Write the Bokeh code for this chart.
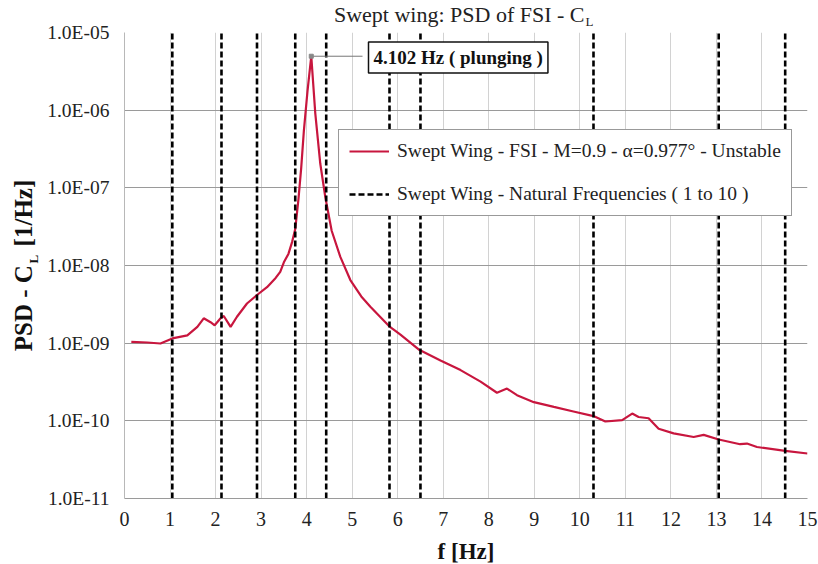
import math
from bokeh.plotting import figure
from bokeh.models import (FixedTicker, CustomJSTickFormatter, Label, Legend, LegendItem)
from bokeh.embed import file_html
from bokeh.resources import INLINE

# ---- data ----
freq_hz = [0.15, 0.50, 0.79, 1.05, 1.38, 1.60, 1.74, 1.89, 1.98, 2.11, 2.18, 2.33, 2.47,
           2.69, 2.91, 3.13, 3.32, 3.42, 3.50, 3.60, 3.68, 3.75, 3.82, 3.88, 3.94, 4.02,
           4.102, 4.19, 4.30, 4.41, 4.55, 4.74, 4.96, 5.20, 5.40, 5.83, 6.06, 6.46, 6.94,
           7.38, 7.82, 8.18, 8.40, 8.62, 8.99, 9.43, 9.86, 10.30, 10.56, 10.93, 11.15,
           11.29, 11.51, 11.73, 12.06, 12.50, 12.72, 13.05, 13.52, 13.67, 13.89, 14.51, 15.00]
psd_cl = [1.04e-9, 1.02e-9, 0.99e-9, 1.15e-9, 1.26e-9, 1.62e-9, 2.09e-9, 1.86e-9, 1.70e-9,
          2.09e-9, 2.24e-9, 1.62e-9, 2.19e-9, 3.24e-9, 4.17e-9, 5.25e-9, 6.92e-9, 8.3e-9,
          1.1e-8, 1.41e-8, 2.0e-8, 2.95e-8, 7.1e-8, 1.78e-7, 5.5e-7, 1.78e-6,
          4.95e-6, 9.1e-7, 2.04e-7, 7.6e-8, 2.8e-8, 1.29e-8, 6.5e-9, 4.0e-9, 2.95e-9,
          1.62e-9, 1.29e-9, 8.3e-10, 6.0e-10, 4.5e-10, 3.2e-10, 2.3e-10, 2.6e-10, 2.14e-10,
          1.74e-10, 1.51e-10, 1.32e-10, 1.15e-10, 9.8e-11, 1.02e-10, 1.24e-10, 1.12e-10,
          1.08e-10, 7.9e-11, 6.9e-11, 6.2e-11, 6.6e-11, 5.75e-11, 5.0e-11, 5.1e-11, 4.6e-11,
          4.1e-11, 3.8e-11]
natural_freqs = [1.05, 2.13, 2.91, 3.75, 4.43, 5.82, 6.50, 10.30, 13.05, 14.51]
peak_f = 4.102
peak_label = "plunging"
x_ticks = list(range(0, 16))
y_ticks = [1e-11, 1e-10, 1e-9, 1e-8, 1e-7, 1e-6, 1e-5]
series_fsi = "Swept Wing - FSI - M=0.9 - \u03b1=0.977\u00b0 - Unstable"
series_nat = "Swept Wing - Natural Frequencies ( 1 to 10 )"
title_main = "Swept wing: PSD of FSI - C"
sub_l = "L"
x_title = "f [Hz]"
y_title = "PSD - C\u00a0\u00a0\u00a0[1/Hz]"

SERIF = "Liberation Serif"
RED = "#c8163e"

# frame geometry (pixels in the 818x564 canvas)
FL, FT, FW, FH = 124, 32, 683, 466
XMIN, XMAX = 0, 15
YMIN, YMAX = 1e-11, 1e-5

def dx(px):
    return XMIN + (px - FL) / FW * (XMAX - XMIN)

def dy(py):
    lo, hi = math.log10(YMIN), math.log10(YMAX)
    return 10 ** (hi - (py - FT) / FH * (hi - lo))

p = figure(frame_width=FW, frame_height=FH, y_axis_type="log",
           x_range=(XMIN, XMAX), y_range=(YMIN, YMAX),
           output_backend="svg", toolbar_location=None,
           min_border_left=FL, min_border_right=818 - FL - FW,
           min_border_top=FT, min_border_bottom=564 - FT - FH)
p.title.visible = False
p.outline_line_color = None
p.background_fill_color = "white"
p.border_fill_color = "white"

# axes
p.xaxis.ticker = FixedTicker(ticks=x_ticks)
p.yaxis.ticker = FixedTicker(ticks=y_ticks)
p.yaxis.formatter = CustomJSTickFormatter(code="""
const e = Math.round(Math.log10(tick));
const a = Math.abs(e);
return "1.0E" + (e < 0 ? "-" : "+") + (a < 10 ? "0" : "") + a;
""")
for ax in (p.xaxis, p.yaxis):
    ax.major_label_text_font = SERIF
    ax.major_label_text_color = "#222222"
    ax.major_tick_line_color = None
    ax.minor_tick_line_color = None
    ax.major_tick_out = 0
    ax.major_tick_in = 0
    ax.minor_tick_out = 0
    ax.minor_tick_in = 0
    ax.axis_label_text_font = SERIF
    ax.axis_label_text_font_style = "bold"
    ax.axis_label_text_color = "#111111"
p.xaxis.major_label_text_font_size = "20px"
p.yaxis.major_label_text_font_size = "19.5px"
p.xaxis.axis_line_color = "#9a9a9a"
p.yaxis.axis_line_color = "#b8b8b8"
p.xaxis.major_label_standoff = 13
p.yaxis.major_label_standoff = 15
p.xaxis.axis_label = x_title
p.xaxis.axis_label_text_font_size = "23px"
p.xaxis.axis_label_standoff = 10
p.yaxis.axis_label = y_title
p.yaxis.axis_label_text_font_size = "25px"
p.yaxis.axis_label_standoff = 7

p.xgrid.ticker = FixedTicker(ticks=x_ticks)
p.xgrid.grid_line_color = "#d2d2d2"
p.ygrid.grid_line_color = "#9a9a9a"

# data glyphs
r_fsi = p.line(freq_hz, psd_cl, line_color=RED, line_width=2.2)
n = len(natural_freqs)
r_nat = p.segment(x0=natural_freqs, y0=[YMIN] * n, x1=natural_freqs, y1=[YMAX] * n,
                  line_color="black", line_width=2.6, line_dash="6 3")

# peak annotation
peak_psd = psd_cl[freq_hz.index(peak_f)]
p.segment(x0=[peak_f], y0=[peak_psd], x1=[dx(362)], y1=[peak_psd],
          line_color="#777777", line_width=1)
p.scatter([peak_f], [peak_psd], marker="square", size=4, color="#888888")
p.add_layout(Label(x=dx(368), y=dy(57), text=f"{peak_f:.3f} Hz ( {peak_label} )",
                   text_font=SERIF, text_font_style="bold", text_font_size="19px",
                   text_align="left", text_baseline="middle", text_color="#111111",
                   border_line_color="#111111", border_line_width=1.5,
                   background_fill_color="white", padding=5))

# legend
legend = Legend(items=[LegendItem(label=series_fsi, renderers=[r_fsi]),
                       LegendItem(label=series_nat, renderers=[r_nat])],
                location=(338 - FL, FT + FH - 216))
legend.label_text_font = SERIF
legend.label_text_font_size = "19.5px"
legend.label_text_color = "#222222"
legend.border_line_color = "#333333"
legend.border_line_width = 1.2
legend.background_fill_alpha = 1.0
legend.padding = 10
legend.spacing = 21
legend.glyph_width = 40
legend.glyph_height = 22
legend.label_height = 22
legend.label_standoff = 8
legend.margin = 0
p.add_layout(legend, "center")

# Texts outside the frame: Labels placed in side panels (not clipped), positioned in data units
p.add_layout(Label(x=dx(584), y=dy(14), text=title_main, text_font=SERIF,
                   text_font_size="22px", text_align="right", text_baseline="middle",
                   text_color="#222222"), "above")
p.add_layout(Label(x=dx(585), y=dy(21), text=sub_l, text_font=SERIF,
                   text_font_size="13px", text_align="left", text_baseline="middle",
                   text_color="#222222"), "right")
p.add_layout(Label(x=dx(33), y=dy(263), text=sub_l, angle=math.pi / 2, text_font=SERIF,
                   text_font_style="bold", text_font_size="13px", text_align="left",
                   text_baseline="middle", text_color="#111111"), "right")

open("out.html", "w").write(file_html(p, INLINE))
